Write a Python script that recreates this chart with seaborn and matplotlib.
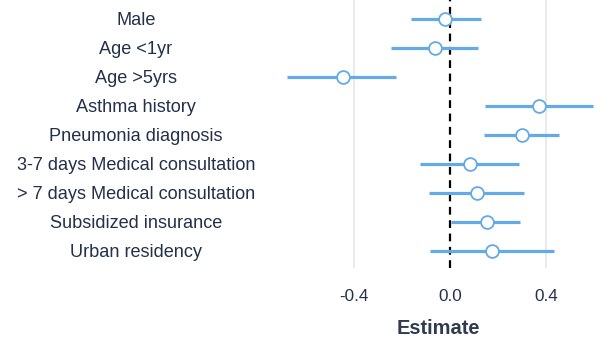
import numpy as np
import pandas as pd
import matplotlib
matplotlib.use("Agg")
import matplotlib.pyplot as plt
import seaborn as sns

# datos
variables = ["Male", "Age <1yr", "Age >5yrs", "Asthma history", "Pneumonia diagnosis",
             "3-7 days Medical consultation", "> 7 days Medical consultation",
             "Subsidized insurance", "Urban residency"]
estimate = [-0.022, -0.062, -0.448, 0.370, 0.300, 0.081, 0.111, 0.152, 0.174]
ci_low = [-0.165, -0.247, -0.679, 0.146, 0.140, -0.125, -0.090, 0.003, -0.083]
ci_high = [0.127, 0.115, -0.225, 0.595, 0.456, 0.288, 0.307, 0.293, 0.432]
xticks = [-0.4, 0.0, 0.4]

df = pd.DataFrame({"variable": variables, "estimate": estimate,
                   "low": ci_low, "high": ci_high})

sns.set_style("white")
plt.rcParams["font.family"] = ["Liberation Sans", "DejaVu Sans"]

blue = "#64aae6"
text_col = "#24304a"

fig = plt.figure(figsize=(6, 3.41), dpi=100)
ax = fig.add_axes([0.4625, 0.214, 0.5355, 0.786])

# lineas de referencia
for t in [-0.4, 0.4]:
    ax.axvline(t, color="#e6e6e6", lw=1.2, zorder=0)
ax.axvline(0, color="black", lw=1.6, ls=(0, (3.5, 2.5)), zorder=1)

# intervalos de confianza
ax.hlines(y=np.arange(len(df)), xmin=df["low"], xmax=df["high"],
          color=blue, lw=2.3, zorder=2)

# estimaciones
sns.scatterplot(data=df, x="estimate", y="variable", ax=ax, s=85,
                color="white", edgecolor=blue, linewidth=1.3, zorder=3)

ax.set_xlim(-0.72, 0.62)
ax.set_ylim(8.59, -0.655)
ax.set_xticks(xticks)
ax.set_xticklabels([f"{t:.1f}" for t in xticks], fontsize=12.3, color=text_col)
ax.set_yticks(range(len(variables)))
ax.set_yticklabels(variables, fontsize=13.1, color=text_col)
for lab in ax.get_yticklabels():
    lab.set_horizontalalignment("center")
ax.tick_params(axis="y", length=0, pad=102)
ax.tick_params(axis="x", length=0, pad=15)
ax.set_ylabel("")
ax.set_xlabel("Estimate", fontsize=14.4, fontweight="bold", color="#2f3b4f", labelpad=11)
sns.despine(ax=ax, left=True, bottom=True)

fig.savefig("out.png", dpi=100)
